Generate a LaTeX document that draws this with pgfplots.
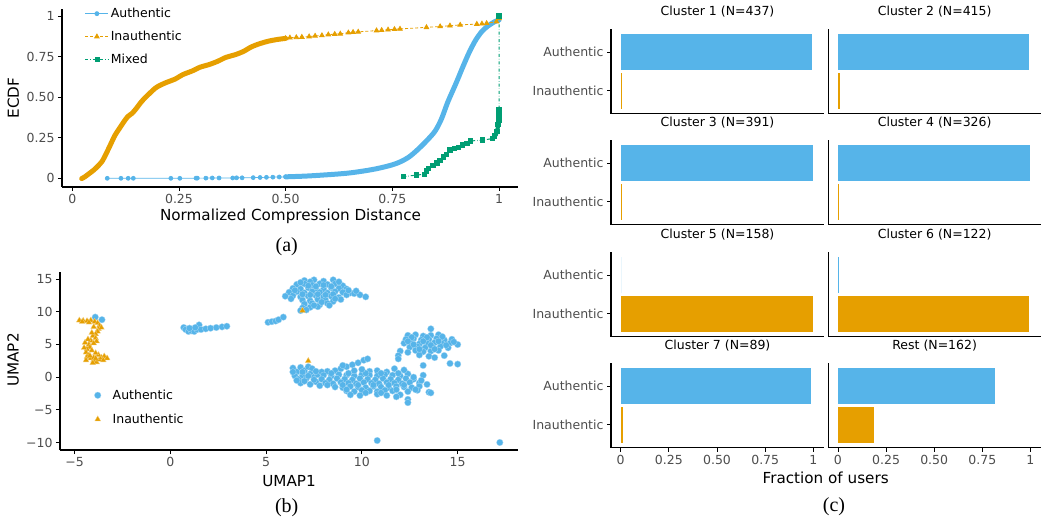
\documentclass[border=0pt]{standalone}
\usepackage{pgfplots}
\pgfplotsset{compat=1.18}
\usepackage{fontspec}
\setsansfont{DejaVu Sans}
\newfontfamily\capfont{Liberation Serif}
\definecolor{cblue}{RGB}{86,180,233}
\definecolor{corange}{RGB}{230,159,0}
\definecolor{cgreen}{RGB}{0,158,115}
\definecolor{tickgray}{RGB}{77,77,77}
\newcommand{\tickf}{\fontsize{12.5}{14}\selectfont\sffamily}
\newcommand{\labf}{\fontsize{15.2}{17}\selectfont\sffamily}
\newcommand{\capf}{\fontsize{20}{22}\selectfont\capfont}
\pgfplotsset{
  gg/.style={
    scale only axis,
    axis x line*=bottom, axis y line*=left,
    axis line style={line width=1.3pt,-},
    tick align=outside, major tick length=4pt,
    every tick/.style={black, line width=0.8pt},
    tick label style={font=\tickf, text=tickgray},
    clip=true,
  },
  facet/.style={
    gg, width=213pt, height=84.7pt,
    xmin=-0.05, xmax=1.055, ymin=-0.6, ymax=1.6,
    ytick={0,1}, yticklabels={Inauthentic,Authentic},
    xtick=\empty,
    title style={font=\tickf, text=black, at={(0.5,1)}, anchor=base, yshift=7.5pt, inner sep=0pt},
  },
  facetR/.style={facet, ytick=\empty, width=212.7pt},
  bottomrow/.style={xtick={0,0.25,0.5,0.75,1}, xticklabels={0,0.25,0.50,0.75,1}},
  barA/.style={xbar, bar shift=0pt, bar width=36pt, fill=cblue, draw=none},
  barI/.style={xbar, bar shift=0pt, bar width=36pt, fill=corange, draw=none},
}
\begin{document}
\begin{tikzpicture}[x=1pt,y=1pt]
\useasboundingbox (0,0) rectangle (1044,525);

% ---------------- Panel (a) ----------------
\begin{axis}[gg, at={(62pt,338pt)}, anchor=south west, width=456pt, height=178pt,
  xmin=-0.0241, xmax=1.0445, ymin=-0.0536, ymax=1.043,
  xtick={0,0.25,0.5,0.75,1}, xticklabels={0,0.25,0.50,0.75,1},
  ytick={0,0.25,0.5,0.75,1}, yticklabels={0,0.25,0.50,0.75,1},
  legend style={at={(0.05,1.017)}, anchor=north west, draw=none, fill=none, font=\tickf,
    row sep=8pt, inner sep=0pt},
  legend cell align=left,
  legend image code/.code={\draw[mark repeat=2,mark phase=2,#1] plot coordinates {(0pt,0pt) (11.5pt,0pt) (23pt,0pt)};},
  clip=false]
\addlegendimage{cblue, line width=0.8pt, mark=*, mark size=2pt}
\addlegendentry{Authentic}
\addlegendimage{corange, densely dashed, line width=0.8pt, mark=triangle*, mark size=2.6pt, mark options={solid}}
\addlegendentry{Inauthentic}
\addlegendimage{cgreen, dash dot, line width=0.8pt, mark=square*, mark size=2pt, mark options={solid}}
\addlegendentry{Mixed}
% Authentic sparse low part
\addplot[cblue, line width=0.7pt, mark=*, mark size=2pt, forget plot] coordinates {
(0.082,0.0)(0.114,0.0)(0.131,0.0)(0.143,0.0)(0.231,0.0)(0.252,0.0)(0.29,0.001)(0.293,0.001)
(0.313,0.001)(0.328,0.002)(0.344,0.002)(0.376,0.002)(0.385,0.003)(0.398,0.003)(0.424,0.004)
(0.44,0.005)(0.455,0.006)(0.47,0.007)(0.485,0.008)(0.5,0.009)};
% Authentic dense band
\addplot[cblue, line width=5pt, line cap=round, line join=round, smooth, forget plot] coordinates {
(0.5,0.009)(0.55,0.014)(0.61,0.024)(0.65,0.033)(0.69,0.048)(0.72,0.063)(0.75,0.083)(0.77,0.103)
(0.79,0.133)(0.81,0.178)(0.83,0.23)(0.85,0.29)(0.865,0.365)(0.88,0.47)(0.90,0.59)(0.915,0.685)
(0.93,0.775)(0.945,0.85)(0.96,0.905)(0.975,0.94)(0.99,0.965)(1.0,0.975)};
% Inauthentic dense band
\addplot[corange, line width=5pt, line cap=round, line join=round, smooth, forget plot] coordinates {
(0.022,-0.002)(0.03,0.01)(0.04,0.03)(0.05,0.05)(0.06,0.075)(0.07,0.105)(0.08,0.155)(0.09,0.21)
(0.10,0.265)(0.11,0.305)(0.12,0.345)(0.13,0.38)(0.14,0.40)(0.15,0.43)(0.16,0.465)(0.17,0.495)
(0.18,0.52)(0.19,0.545)(0.20,0.565)(0.22,0.59)(0.24,0.61)(0.26,0.64)(0.28,0.66)(0.30,0.685)
(0.32,0.70)(0.34,0.72)(0.36,0.745)(0.38,0.76)(0.40,0.78)(0.42,0.81)(0.44,0.83)(0.46,0.845)
(0.48,0.855)(0.50,0.862)};
% Inauthentic sparse part
\addplot[corange, densely dashed, line width=0.8pt, mark=triangle*, mark size=2.6pt, mark options={solid}, forget plot] coordinates {
(0.50,0.862)(0.51,0.866)(0.525,0.868)(0.538,0.87)(0.555,0.873)(0.569,0.877)(0.585,0.88)(0.60,0.885)
(0.615,0.888)(0.628,0.89)(0.647,0.897)(0.658,0.9)(0.67,0.902)(0.713,0.91)(0.725,0.912)(0.74,0.915)
(0.755,0.918)(0.768,0.92)(0.83,0.93)(0.862,0.935)(0.885,0.94)(0.909,0.945)(0.948,0.95)(0.96,0.952)
(0.971,0.955)(0.994,0.965)(1.0,0.985)};
% Mixed
\addplot[cgreen, dash dot, line width=1pt, mark=square*, mark size=2.2pt, mark options={solid}, forget plot] coordinates {
(0.776,0.01)(0.807,0.02)(0.826,0.025)(0.83,0.045)(0.835,0.06)(0.845,0.08)(0.855,0.095)(0.862,0.11)
(0.87,0.13)(0.877,0.145)(0.885,0.175)(0.895,0.185)(0.905,0.19)(0.915,0.205)(0.925,0.215)(0.933,0.23)
(0.962,0.235)(0.985,0.245)(0.99,0.26)(0.995,0.29)(0.998,0.33)(1.0,0.36)(1.0,0.39)(1.0,0.42)(1.0,1.0)};
\addplot[cgreen, line width=4pt, forget plot] coordinates {(0.986,0.245)(0.993,0.27)(0.997,0.31)(1.0,0.35)(1.0,0.425)};
\end{axis}
\node[font=\labf, rotate=90] at (13.3,427) {ECDF};
\node[font=\labf] at (290.5,308.3) {Normalized Compression Distance};
\node[font=\capf] at (286.7,278.3) {(a)};

% ---------------- Panel (b) ----------------
\begin{axis}[gg, at={(60pt,75pt)}, anchor=south west, width=458pt, height=178.3pt,
  xmin=-5.76, xmax=18.15, ymin=-11.15, ymax=16.15,
  xtick={-5,0,5,10,15}, xticklabels={−5,0,5,10,15},
  ytick={-10,-5,0,5,10,15}, yticklabels={−10,−5,0,5,10,15},
  legend style={at={(0.071,0.35)}, anchor=north west, draw=none, fill=none, font=\tickf,
    row sep=9pt, inner sep=0pt},
  legend cell align=left,
  legend image code/.code={\draw[#1] plot coordinates {(5pt,0pt)}; \path[draw=none,fill=none] (0pt,0pt) rectangle (18pt,0.1pt);}]
\addplot[only marks, mark=*, mark size=3.3pt, mark options={fill=cblue, draw=white!50!cblue, line width=0.3pt}] coordinates {
(-3.92,9.2)(-3.57,8.8)
(0.7,7.6)(0.8,7.3)(0.95,7.0)(1.1,7.1)(1.25,7.0)(1.4,7.3)(1.5,8.0)(1.6,7.3)(1.85,7.4)(2.1,7.5)
(2.4,7.6)(2.7,7.7)(2.95,7.8)(1.0,7.5)(1.3,7.6)
(5.1,8.4)(5.3,8.5)(5.5,8.6)(5.65,8.8)(5.9,9.2)
(7.0,14.8)(7.5,14.9)(8.0,14.7)(8.5,14.9)(7.3,14.6)
(6.6,14.2)(7.0,14.3)(7.4,14.1)(7.8,14.3)(8.2,14.2)(8.6,14.3)(9.0,14.0)
(6.4,13.6)(6.8,13.5)(7.2,13.7)(7.6,13.6)(8.0,13.5)(8.4,13.7)(8.8,13.6)(9.2,13.5)
(6.2,13.0)(6.6,13.1)(7.0,12.9)(7.4,13.1)(7.8,13.0)(8.2,12.9)(8.6,13.1)(9.0,13.0)(9.4,12.9)
(6.0,12.4)(6.4,12.5)(6.8,12.3)(7.2,12.4)(7.6,12.5)(8.0,12.3)(8.4,12.4)(8.8,12.2)(9.6,12.8)(9.9,12.6)(10.2,12.3)
(6.9,11.8)(7.3,11.7)(7.7,11.9)(8.1,11.8)(8.5,11.6)(8.9,11.9)
(7.0,11.2)(7.4,11.3)(7.8,11.1)(8.2,11.3)
(6.9,10.6)(7.3,10.7)(7.7,10.8)(6.8,10.2)(7.1,10.3)
(6.8,14.5)(7.2,14.0)(7.6,13.9)(8.0,14.1)(8.4,13.9)(8.8,14.6)(6.5,13.3)(6.9,12.7)(7.3,12.6)(7.7,12.7)
(8.1,12.6)(8.5,12.7)(9.2,12.6)(6.3,12.0)(7.9,11.5)(8.6,12.0)(9.3,13.3)(9.7,13.2)(7.5,11.0)(8.3,11.0)
(6.4,1.4)(6.6,0.8)(6.8,1.5)(7.0,1.0)(7.2,1.6)(7.4,1.3)(6.5,0.2)(6.7,-0.3)(6.9,0.3)(7.1,-0.2)
(7.3,0.5)(7.5,0.0)(7.7,0.4)(6.8,-0.9)(7.0,-0.6)(7.3,-1.1)(7.6,-0.7)(7.8,-1.3)(6.6,-0.5)(7.9,0.8)
(7.2,0.2)(6.9,0.8)(7.5,-0.4)(6.4,0.8)(7.6,0.9)
(8.9,1.3)(9.2,1.6)(9.5,1.9)(9.8,2.2)(10.1,2.6)(10.3,2.8)(9.0,1.8)
(8.2,0.9)(8.6,1.0)(10.4,0.9)(10.8,1.0)(11.3,0.8)(11.7,1.3)
(8.0,0.3)(8.4,0.2)(8.8,0.4)(9.2,0.3)(9.6,0.2)(10.0,0.4)(10.4,0.3)(10.8,0.2)(11.2,0.4)(11.6,0.3)(12.0,0.2)(12.4,0.5)(13.2,0.3)
(7.9,-0.3)(8.3,-0.4)(8.7,-0.2)(9.1,-0.3)(9.5,-0.4)(9.9,-0.2)(10.3,-0.3)(10.7,-0.4)(11.1,-0.2)(11.5,-0.3)(11.9,-0.4)(12.3,-0.2)(12.7,-0.3)
(8.1,-0.9)(8.5,-1.0)(8.9,-0.8)(9.3,-0.9)(9.7,-1.0)(10.1,-0.8)(10.5,-0.9)(10.9,-1.0)(11.3,-0.8)(11.7,-0.9)(12.1,-1.0)(12.5,-0.8)(13.0,-0.9)(13.4,-1.1)
(8.6,-1.5)(9.0,-1.6)(9.4,-1.4)(9.8,-1.5)(10.2,-1.6)(10.6,-1.4)(11.0,-1.5)(11.4,-1.6)(11.8,-1.4)(12.2,-1.5)(12.6,-1.6)(13.0,-1.4)
(9.2,-2.1)(9.6,-2.2)(10.0,-2.0)(10.4,-2.1)(10.8,-2.2)(11.2,-2.0)(11.6,-2.1)(12.4,-2.2)(12.9,-2.0)(13.5,-2.3)
(9.4,-2.7)(9.9,-2.8)(10.8,-2.6)(11.3,-2.8)(12.0,-2.7)
(11.8,-3.0)(12.4,-3.4)(12.4,-3.9)(13.6,-2.4)(12.8,-1.9)
(8.2,-1.2)(9.0,-1.2)(9.8,-1.2)(10.6,-1.2)(11.4,-1.2)(12.2,-1.2)(8.4,0.6)(9.3,0.6)(10.2,0.6)(11.0,0.6)
(11.9,0.6)(12.7,0.0)(13.1,-0.5)(9.2,-1.9)(10.2,-2.4)(11.0,-2.4)(11.8,-1.9)(9.6,1.0)(10.0,1.2)(12.2,1.1)
(13.6,7.4)
(12.4,6.4)(12.8,6.5)(13.2,6.3)(13.6,6.4)(14.0,6.5)
(12.3,5.8)(12.7,5.9)(13.1,5.7)(13.5,5.8)(13.9,5.9)(14.3,5.7)(14.7,5.8)
(12.2,5.2)(12.6,5.3)(13.0,5.1)(13.4,5.2)(13.8,5.3)(14.2,5.1)(14.6,5.2)(15.0,5.0)
(12.5,4.6)(12.9,4.7)(13.3,4.5)(13.7,4.6)(14.1,4.7)(14.5,4.5)
(12.0,4.0)(12.8,4.1)(13.2,3.9)(13.6,4.0)(14.0,4.1)
(11.9,3.3)(13.0,3.4)(13.5,3.2)(14.3,3.3)
(11.9,2.8)(13.2,1.8)(14.6,2.1)(15.0,2.0)(13.8,3.0)
(12.6,6.1)(13.4,6.1)(14.2,6.2)(12.4,5.5)(13.2,5.5)(14.0,5.5)(14.8,5.4)(12.7,5.0)(13.6,4.9)(14.4,4.9)
(13.0,4.3)(13.8,4.3)(12.4,3.8)
(10.8,-9.7)(17.2,-10.0)};
\addlegendentry{Authentic}
\addplot[only marks, mark=triangle*, mark size=3.4pt, mark options={fill=corange, draw=white!50!corange, line width=0.3pt}] coordinates {
(-4.75,8.7)(-4.55,8.65)(-4.35,8.6)(-4.15,8.7)(-3.95,8.5)(-3.8,8.3)(-3.7,7.9)(-3.75,7.4)(-3.8,7.0)
(-3.9,6.6)(-4.05,6.3)(-3.9,6.0)(-4.15,5.6)(-4.25,5.0)(-4.2,4.6)(-4.35,4.3)(-4.1,4.1)(-4.4,3.8)
(-4.3,3.4)(-4.35,3.1)(-4.15,2.9)(-4.0,2.6)(-3.85,2.3)(-4.05,2.2)(-3.7,2.7)(-3.6,3.0)(-3.45,3.2)
(-3.3,2.9)(-3.75,3.4)(-3.9,3.7)(-4.2,3.3)(-4.0,3.0)(-4.5,4.5)(-4.45,5.3)(-3.85,5.5)(-4.0,7.7)
(-4.25,8.4)(-4.6,8.5)(-3.6,7.6)(-4.1,6.8)(-4.3,5.8)(-4.0,5.2)(-4.4,2.6)(-3.5,2.6)(-3.9,2.9)
(7.2,2.5)(6.9,10.2)};
\addlegendentry{Inauthentic}
\end{axis}
\node[font=\labf, rotate=90] at (13,165) {UMAP2};
\node[font=\labf] at (289,44.3) {UMAP1};
\node[font=\capf] at (286.7,17.7) {(b)};

% ---------------- Panel (c) ----------------
\begin{axis}[facet, at={(611pt,411.3pt)}, anchor=south west, title={Cluster 1 (N=437)}]
\addplot[barA] coordinates {(0.995,1)};
\addplot[barI] coordinates {(0.009,0)};
\end{axis}
\begin{axis}[facetR, at={(828.3pt,411.3pt)}, anchor=south west, title={Cluster 2 (N=415)}]
\addplot[barA] coordinates {(0.995,1)};
\addplot[barI] coordinates {(0.01,0)};
\end{axis}
\begin{axis}[facet, at={(611pt,300.3pt)}, anchor=south west, title={Cluster 3 (N=391)}]
\addplot[barA] coordinates {(0.997,1)};
\addplot[barI] coordinates {(0.003,0)};
\end{axis}
\begin{axis}[facetR, at={(828.3pt,300.3pt)}, anchor=south west, title={Cluster 4 (N=326)}]
\addplot[barA] coordinates {(0.997,1)};
\addplot[barI] coordinates {(0.003,0)};
\end{axis}
\begin{axis}[facet, at={(611pt,188.3pt)}, anchor=south west, title={Cluster 5 (N=158)}]
\addplot[barA] coordinates {(0.0,1)};
\addplot[barI] coordinates {(1.0,0)};
\end{axis}
\begin{axis}[facetR, at={(828.3pt,188.3pt)}, anchor=south west, title={Cluster 6 (N=122)}]
\addplot[barA] coordinates {(0.008,1)};
\addplot[barI] coordinates {(0.992,0)};
\end{axis}
\begin{axis}[facet, bottomrow, at={(611pt,77.3pt)}, anchor=south west, title={Cluster 7 (N=89)}]
\addplot[barA] coordinates {(0.989,1)};
\addplot[barI] coordinates {(0.011,0)};
\end{axis}
\begin{axis}[facetR, bottomrow, at={(828.3pt,77.3pt)}, anchor=south west, title={Rest (N=162)}]
\addplot[barA] coordinates {(0.815,1)};
\addplot[barI] coordinates {(0.185,0)};
\end{axis}
\node[font=\labf] at (825.7,47.3) {Fraction of users};
\node[font=\capf] at (834,18) {(c)};
\end{tikzpicture}
\end{document}
